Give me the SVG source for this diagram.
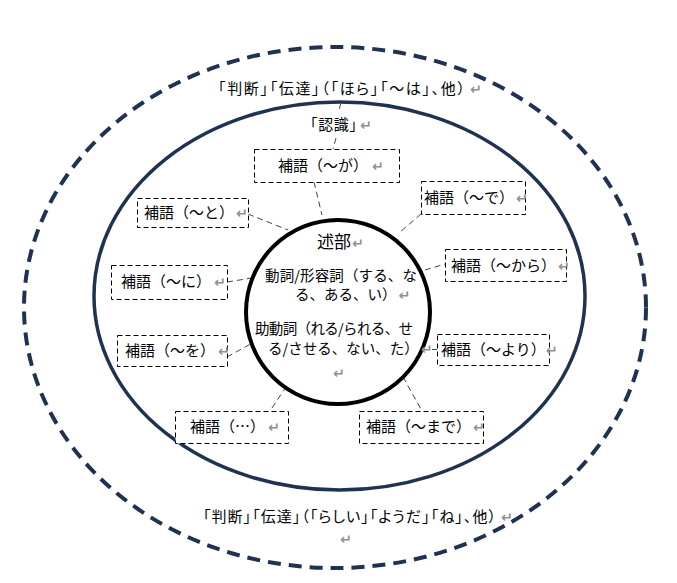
<svg xmlns="http://www.w3.org/2000/svg" width="677" height="583" viewBox="0 0 677 583">
<style>
  text { font-family: "Noto Sans CJK JP", "Noto Sans", sans-serif; fill: #000; }
  .t { font-size: 15px; }
  .c { font-size: 14.5px; }
  .lab { font-size: 15px; font-feature-settings: "palt"; }
  .rt { fill: #8f8f8f; font-family: "DejaVu Sans", sans-serif; font-size: 14px; font-weight: bold; font-feature-settings: normal; }
  .box { fill: #fff; stroke: #000; stroke-width: 1; stroke-dasharray: 5 3; }
  .con { stroke: #444; stroke-width: 1; stroke-dasharray: 6 4; fill: none; }
</style>
<rect width="677" height="583" fill="#fff"/>
<g id="outer-ellipse">
  <ellipse cx="335" cy="307.5" rx="311" ry="260.5" fill="none" stroke="#1f3252" stroke-width="4" stroke-dasharray="13 8"/>
</g>
<g id="inner-ellipse">
  <ellipse cx="339.5" cy="296" rx="245.5" ry="194" fill="none" stroke="#1f3252" stroke-width="3.5"/>
</g>
<g id="connectors">
  <line class="con" x1="341" y1="103" x2="339" y2="110"/>
  <line class="con" x1="336" y1="138" x2="333" y2="149"/>
  <line class="con" x1="314" y1="182" x2="322" y2="215"/>
  <line class="con" x1="248" y1="214" x2="288" y2="230"/>
  <line class="con" x1="421" y1="214" x2="399" y2="233"/>
  <line class="con" x1="425" y1="270" x2="445" y2="264"/>
  <line class="con" x1="227" y1="282" x2="252" y2="278"/>
  <line class="con" x1="227" y1="357" x2="256" y2="341"/>
  <line class="con" x1="412" y1="349.5" x2="437" y2="349.5"/>
  <line class="con" x1="398" y1="368" x2="422" y2="411"/>
  <line class="con" x1="292" y1="378" x2="270" y2="411"/>
</g>
<g id="center">
  <circle cx="338" cy="312" r="92" fill="#fff" stroke="#000" stroke-width="4"/>
  <text x="317" y="248" style="font-size:17px">述部<tspan class="rt" dx="1">↵</tspan></text>
  <text class="c" x="265" y="281" textLength="152">動詞/形容詞（する、な</text>
  <text class="c" x="295" y="300">る、ある、い）<tspan class="rt" dx="2">↵</tspan></text>
  <text class="c" x="255" y="334" textLength="158">助動詞（れる/られる、せ</text>
  <text class="c" x="268" y="354">る/させる、ない、た）<tspan class="rt" dx="2">↵</tspan></text>
  <text class="rt" x="333" y="378">↵</text>
</g>
<g id="label-top">
  <text class="lab" x="218" y="94" textLength="247">「判断」「伝達」（「ほら」「〜は」、他）</text>
  <text class="rt" x="470" y="94">↵</text>
</g>
<g id="label-ninshiki">
  <text class="lab" x="310" y="130" textLength="47">「認識」</text>
  <text class="rt" x="360" y="130">↵</text>
</g>
<g id="label-bottom">
  <text class="lab" x="203" y="522" textLength="293">「判断」「伝達」（「らしい」「ようだ」「ね」、他）</text>
  <text class="rt" x="501" y="522">↵</text>
  <text class="rt" x="340" y="544">↵</text>
</g>
<g id="box-ga">
  <rect class="box" x="254.5" y="149.5" width="145" height="33"/>
  <text class="t" x="278" y="171">補語（〜が）<tspan class="rt" dx="4">↵</tspan></text>
</g>
<g id="box-to">
  <rect class="box" x="137.5" y="198.5" width="111" height="29"/>
  <text class="t" x="144" y="218">補語（〜と）<tspan class="rt" dx="2">↵</tspan></text>
</g>
<g id="box-de">
  <rect class="box" x="421.5" y="181.5" width="104" height="33"/>
  <text class="t" x="424" y="203">補語（〜で）<tspan class="rt" dx="2">↵</tspan></text>
</g>
<g id="box-kara">
  <rect class="box" x="445.5" y="249.5" width="121" height="32"/>
  <text class="t" x="451" y="271">補語（〜から）<tspan class="rt" dx="2">↵</tspan></text>
</g>
<g id="box-ni">
  <rect class="box" x="111.5" y="265.5" width="116" height="34"/>
  <text class="t" x="121" y="287">補語（〜に）<tspan class="rt" dx="3">↵</tspan></text>
</g>
<g id="box-wo">
  <rect class="box" x="117.5" y="335.5" width="110" height="31"/>
  <text class="t" x="125" y="356">補語（〜を）<tspan class="rt" dx="3">↵</tspan></text>
</g>
<g id="box-yori">
  <rect class="box" x="437.5" y="334.5" width="112" height="31"/>
  <text class="t" x="441" y="355">補語（〜より）<tspan class="rt" dx="0">↵</tspan></text>
</g>
<g id="box-made">
  <rect class="box" x="359.5" y="411.5" width="124" height="32"/>
  <text class="t" x="366" y="432">補語（〜まで）<tspan class="rt" dx="2">↵</tspan></text>
</g>
<g id="box-etc">
  <rect class="box" x="175.5" y="411.5" width="113" height="32"/>
  <text class="t" x="190" y="432">補語（…）<tspan class="rt" dx="3">↵</tspan></text>
</g>
</svg>
